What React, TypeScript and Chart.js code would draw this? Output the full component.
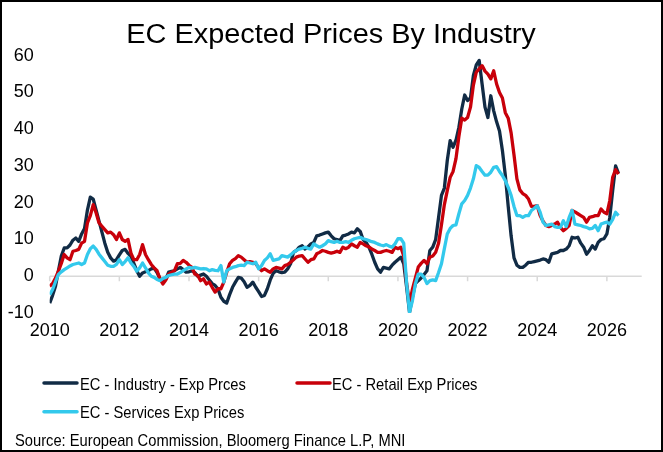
import { useEffect, useRef } from "react";
import { Chart, registerables } from "chart.js";

Chart.register(...registerables);

const START_YEAR = 2010;

const chartTitle = "EC Expected Prices By Industry";
const sourceText = "Source: European Commission, Bloomerg Finance L.P, MNI";
const seriesLabels = ["EC - Industry - Exp Prces", "EC - Retail Exp Prices", "EC - Services Exp Prices"];
const seriesColors = ["#112B45", "#C8000A", "#33C9EC"];
const xTickYears = [2010, 2012, 2014, 2016, 2018, 2020, 2022, 2024, 2026];

// Monthly values, Jan 2010 onwards
const industry = [
  -7.3, -5.2, -2.7, 1.5, 5.5, 7.7, 7.7, 8.5, 9.8, 10.4, 9.5, 11.5, // 2010
  13, 18, 21.5, 21, 18, 15, 12, 9, 6.5, 5, 4.1, 4.5, // 2011
  5.8, 7, 7.3, 6.2, 5.4, 3.5, 1.5, 0, 0.9, 1.2, 1.5, 2.0, // 2012
  2.2, 1, -0.7, -1.6, -0.8, 1.1, 1.3, 1.5, 2, 2.4, 1.8, 1.1, // 2013
  1.2, 1.5, 1, 0, 0.3, 0.6, 0, -1, -2, -2.5, -3.5, -5.7, // 2014
  -6.8, -7.3, -5, -3, -1.6, -0.3, -0.5, -1.5, -3, -2.5, -1.6, -3, // 2015
  -4.2, -5.5, -5.2, -3.4, -1, 0.8, 1.5, 1.2, 1, 1.1, 2, 3.4, // 2016
  6.5, 7, 7.9, 8.3, 7.4, 8, 8.8, 9.2, 11, 11.2, 11.5, 11.8, // 2017
  12, 11, 10.2, 10, 9.7, 11, 11.2, 11.5, 12, 11.8, 12.9, 12.2, // 2018
  10, 9.2, 7.9, 6, 3.8, 2, 1.1, 2.4, 2.2, 2, 3, 3.8, // 2019
  4.5, 5.2, 3.4, -3, -9.8, -5.7, -2, -1.2, -0.5, 0.5, 1.5, 7, // 2020
  7.9, 10, 16, 22, 24, 31.5, 36.9, 35.1, 37, 40.5, 45.5, 49.3, // 2021
  47.8, 48.5, 54.6, 57.5, 58.7, 52.3, 46, 43.2, 49.1, 45, 42, 39.5, // 2022
  34.2, 27.5, 19, 11, 5, 3, 2.4, 2.4, 3, 3.8, 3.8, 4, // 2023
  4.2, 4.4, 4.7, 4.5, 3.8, 6.1, 6.3, 6.5, 7, 7, 7.4, 8.3, // 2024
  10.6, 10.4, 10.6, 9, 7.9, 6, 7, 8.3, 7.4, 9.2, 10, 10.2, // 2025
  11.5, 16, 23.3, 30, 28, // 2026
];

const retail = [
  -2.7, -2, -0.5, 1.4, 3.5, 5.9, 5, 4.5, 6.8, 7, 7.3, 9, // 2010
  9.5, 14.5, 16.5, 19.5, 17.2, 14.5, 13.6, 12.7, 11.8, 12, 11.3, 10, // 2011
  11.8, 10, 9.5, 10, 6.3, 4.5, 4.5, 5.9, 8.6, 5.9, 4.5, 3.2, // 2012
  2.3, 1.5, -0.7, -2.1, -1, 0.6, 1.1, 1.5, 3.4, 3.5, 4.3, 3.8, // 2013
  3, 2.4, 0.6, 0.2, -1.2, -0.7, -2.1, -1.6, -3, -4.3, -3.4, -3.4, // 2014
  -1.6, 1.1, 3.4, 4.3, 4.8, 5.6, 5.2, 4.5, 3.8, 4, 3.8, 3.4, // 2015
  2.4, 1.5, 2, 1.5, 1.1, 2, 2.4, 2.2, 2, 2.9, 3.2, 3.8, // 2016
  4.5, 5.2, 5.5, 5.6, 4.7, 3.8, 4.5, 4.7, 6.1, 6.5, 7, 6.8, // 2017
  6.5, 6.3, 6.5, 6.8, 6.5, 7.9, 7.5, 7.9, 8.8, 8.3, 7.9, 9.2, // 2018
  8.8, 8.3, 8, 7.4, 7, 6.5, 6.5, 6.8, 7, 6.8, 6.5, 7.9, // 2019
  7.5, 7.9, 5.5, -2, -7.5, -3.5, -0.5, 2.5, 3.5, 4.3, 3.4, 5.2, // 2020
  5.5, 6.5, 9, 14, 19.5, 23.3, 26.9, 28.5, 32, 38, 43, 42.5, // 2021
  43.2, 46, 52, 55.5, 56.4, 57.3, 55.8, 55, 53.7, 55.9, 52.3, 50, // 2022
  48.5, 44.5, 43, 39, 33, 26.5, 23.5, 22.5, 22, 21, 19, 19, // 2023
  19.2, 16.5, 15, 13.8, 13.5, 13.8, 14.2, 14.7, 13.3, 12.4, 13, 13.8, // 2024
  17.9, 17.5, 17, 16.5, 16, 14.7, 16, 16.2, 16.5, 16.5, 18.3, 17.4, // 2025
  17, 20.6, 26.9, 29, 27.8, // 2026
];

const services = [
  -5, -3.6, -1.5, 0.5, 1.2, 1.8, 2.3, 2.8, 3.2, 3.4, 3.6, 3.2, // 2010
  3.6, 5.9, 7.5, 8.2, 7.3, 6, 5, 4, 3, 2.7, 2.7, 3.2, // 2011
  4.5, 3.2, 4, 5, 3.6, 2.7, 1.4, 2.3, 3.6, 2.3, 0.9, 0, // 2012
  -0.3, -0.9, -1.2, -0.6, -0.3, 0.2, 0.4, 0.6, 0.6, 1, 1.5, 2, // 2013
  2.4, 2.2, 2.4, 2.2, 2, 2.1, 2, 1.5, 1.8, 1.6, 1.5, 2.9, // 2014
  -1.6, 1.5, 2, 2.4, 2.6, 2.9, 3, 2.9, 3.8, 3.6, 3.4, 3.8, // 2015
  2, 2.9, 4.3, 5, 6.1, 4.3, 4.5, 4.7, 5.6, 5.4, 5.2, 5.8, // 2016
  6.5, 7, 7.4, 7.6, 7.9, 7.6, 7.4, 8.8, 8.3, 7.9, 8.3, 8.8, // 2017
  9.7, 9.4, 9.2, 9.5, 9.2, 9.2, 9.4, 9.2, 9.8, 10.2, 10.4, 10.6, // 2018
  10.2, 10, 9.7, 9.4, 9.2, 8.8, 8.5, 8.3, 8.6, 8.2, 7.9, 8.8, // 2019
  10.2, 10.2, 9, -2, -9.8, -6.6, -2.1, 0.6, 0.6, -0.3, -2, -1.2, // 2020
  -1, -1.2, 1, 3.4, 7.5, 11.5, 13, 13.8, 14, 17, 19.7, 20.6, // 2021
  22, 24, 26.5, 30.1, 29.6, 28.5, 27.5, 27.5, 28.3, 29.6, 29.8, 28.5, // 2022
  27.4, 26, 24.2, 22, 19, 16.5, 16.5, 16, 16.5, 16.5, 17.9, 18.5, // 2023
  19.2, 17.4, 14.7, 13.8, 14, 14.2, 13.5, 13.3, 13.3, 15.1, 13.5, 16, // 2024
  17.9, 14.2, 14, 13.8, 13.5, 13.3, 12.9, 13, 13.8, 12.4, 14.2, 14.5, // 2025
  14.7, 14.2, 15.5, 17.4, 16.5, // 2026
];

const FONT = '"Liberation Sans", Arial, sans-serif';

const toPoints = (vals: number[]) => vals.map((y, i) => ({ x: START_YEAR + i / 12, y }));

function drawText(ctx: CanvasRenderingContext2D, text: string, x: number, y: number, sx: number) {
  ctx.save();
  ctx.translate(x, y);
  ctx.scale(sx, 1);
  ctx.fillText(text, 0, 0);
  ctx.restore();
}

const decorPlugin = {
  id: "decor",
  beforeDatasetsDraw(chart: any) {
    const { ctx } = chart;
    const xs = chart.scales.x;
    const ys = chart.scales.y;
    const y0 = ys.getPixelForValue(0);
    ctx.save();
    ctx.strokeStyle = "#D9D9D9";
    ctx.lineWidth = 1.5;
    ctx.beginPath();
    ctx.moveTo(xs.left, y0);
    ctx.lineTo(xs.right, y0);
    xTickYears.forEach((t) => {
      const px = xs.getPixelForValue(t);
      ctx.moveTo(px, y0);
      ctx.lineTo(px, y0 + 5);
    });
    ctx.stroke();
    ctx.restore();
  },
  afterDraw(chart: any) {
    const { ctx, width, height } = chart;
    ctx.save();
    // title
    ctx.fillStyle = "#000";
    ctx.font = `27px ${FONT}`;
    ctx.textAlign = "center";
    ctx.textBaseline = "alphabetic";
    drawText(ctx, chartTitle, 331, 42.5, 1.07);

    // legend
    const items = [
      { lx: 44, ly: 383, tx: 80, ty: 390 },
      { lx: 297, ly: 383, tx: 332, ty: 390 },
      { lx: 44, ly: 411.7, tx: 80, ty: 418.3 },
    ];
    ctx.font = `17px ${FONT}`;
    ctx.textAlign = "left";
    items.forEach((it, i) => {
      const ds = chart.data.datasets[i];
      ctx.strokeStyle = ds.borderColor;
      ctx.lineWidth = 3.5;
      ctx.lineCap = "round";
      ctx.beginPath();
      ctx.moveTo(it.lx, it.ly);
      ctx.lineTo(it.lx + 33, it.ly);
      ctx.stroke();
      ctx.fillStyle = "#000";
      drawText(ctx, ds.label, it.tx, it.ty, 0.865);
    });

    // source
    drawText(ctx, sourceText, 15, 446, 0.865);

    // frame
    ctx.strokeStyle = "#000";
    ctx.lineWidth = 2;
    ctx.strokeRect(1, 1, width - 2, height - 2);
    ctx.restore();
  },
};

export default function App() {
  const canvasRef = useRef<HTMLCanvasElement | null>(null);

  useEffect(() => {
    if (!canvasRef.current) return;
    const chart = new Chart(canvasRef.current, {
      type: "line",
      data: {
        datasets: [
          { label: seriesLabels[0], data: toPoints(industry), borderColor: seriesColors[0], order: 3 },
          { label: seriesLabels[1], data: toPoints(retail), borderColor: seriesColors[1], order: 2 },
          { label: seriesLabels[2], data: toPoints(services), borderColor: seriesColors[2], order: 1 },
        ].map((d) => ({
          ...d,
          borderWidth: 3.3,
          pointRadius: 0,
          tension: 0,
          fill: false,
          borderJoinStyle: "round" as const,
        })),
      },
      options: {
        animation: false,
        responsive: false,
        layout: { padding: { left: 0, right: 21.3, top: 55.7, bottom: 99 } },
        plugins: {
          legend: { display: false },
          title: { display: false },
          tooltip: { enabled: false },
        },
        scales: {
          x: {
            type: "linear",
            min: 2010,
            max: 2027,
            grid: { display: false, drawTicks: false },
            border: { display: false },
            afterFit: (s: any) => {
              s.height = 40;
            },
            ticks: {
              stepSize: 2,
              includeBounds: false,
              autoSkip: false,
              maxRotation: 0,
              padding: 7,
              color: "#000",
              font: { family: FONT, size: 18 },
              callback: (v: any) => String(v),
            },
          },
          y: {
            min: -10,
            max: 60,
            grid: { display: false, drawTicks: false },
            border: { display: false },
            afterFit: (s: any) => {
              s.width = 49.7;
            },
            ticks: {
              stepSize: 10,
              padding: 16,
              color: "#000",
              font: { family: FONT, size: 18 },
            },
          },
        },
      },
      plugins: [decorPlugin],
    });
    return () => chart.destroy();
  }, []);

  return (
    <div style={{ position: "absolute", left: 0, top: 0, width: 663, height: 452, background: "#fff" }}>
      <canvas ref={canvasRef} width={663} height={452} style={{ display: "block" }} />
    </div>
  );
}
